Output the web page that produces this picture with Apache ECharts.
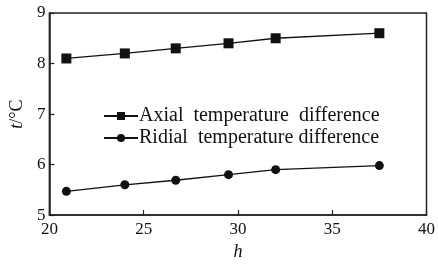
<!DOCTYPE html>
<html><head><meta charset="utf-8">
<script src="https://cdn.jsdelivr.net/npm/echarts@6/dist/echarts.min.js"></script>
<style>html,body{margin:0;padding:0;background:#fff}#c{width:438px;height:266px}</style>
</head><body><div id="c"></div>
<script>
const hValues = [20.9, 24.0, 26.7, 29.5, 32.0, 37.5];
const axialDiff = [8.10, 8.20, 8.30, 8.40, 8.50, 8.60];
const radialDiff = [5.47, 5.60, 5.69, 5.80, 5.90, 5.98];
const seriesNames = ['Axial  temperature  difference', 'Ridial  temperature difference'];
const font = 'Liberation Serif';

const chart = echarts.init(document.getElementById('c'));
chart.setOption({
  animation: false,
  backgroundColor: '#fff',
  textStyle: { fontFamily: font, color: '#111' },
  grid: { left: 45, top: 13, right: 11, bottom: 45, show: true, borderColor: '#222', borderWidth: 1.5 },
  legend: {
    left: 98, top: 101, orient: 'vertical', itemGap: 2, itemWidth: 34, itemHeight: 10,
    textStyle: { fontFamily: font, fontSize: 20, lineHeight: 19, color: '#111', padding: [0, 0, 0, -4] },
    data: seriesNames
  },
  xAxis: {
    type: 'value', min: 20, max: 40, interval: 5,
    name: 'h', nameLocation: 'middle', nameGap: 23,
    nameTextStyle: { fontFamily: font, fontStyle: 'italic', fontSize: 18, color: '#111' },
    axisLine: { lineStyle: { color: '#222', width: 1.5 } },
    axisTick: { inside: true, length: 5, lineStyle: { color: '#222', width: 1.2 } },
    axisLabel: { fontFamily: font, fontSize: 17, color: '#111', margin: 6 },
    splitLine: { show: false }
  },
  yAxis: {
    type: 'value', min: 5, max: 9, interval: 1,
    name: '{i|t}/°C', nameLocation: 'middle', nameGap: 22, nameRotate: 90,
    nameTextStyle: { fontFamily: font, fontSize: 18, color: '#111',
      rich: { i: { fontFamily: font, fontStyle: 'italic', fontSize: 18, color: '#111' } } },
    axisLine: { lineStyle: { color: '#222', width: 1.5 } },
    axisTick: { inside: true, length: 5, lineStyle: { color: '#222', width: 1.2 } },
    axisLabel: { fontFamily: font, fontSize: 17, color: '#111', margin: 4 },
    splitLine: { show: false }
  },
  series: [
    { name: seriesNames[0], type: 'line', data: hValues.map((h, i) => [h, axialDiff[i]]),
      symbol: 'rect', symbolSize: 10, lineStyle: { color: '#111', width: 1.3 },
      itemStyle: { color: '#111' } },
    { name: seriesNames[1], type: 'line', data: hValues.map((h, i) => [h, radialDiff[i]]),
      symbol: 'circle', symbolSize: 9, lineStyle: { color: '#111', width: 1.3 },
      itemStyle: { color: '#111' } }
  ]
});
</script></body></html>
